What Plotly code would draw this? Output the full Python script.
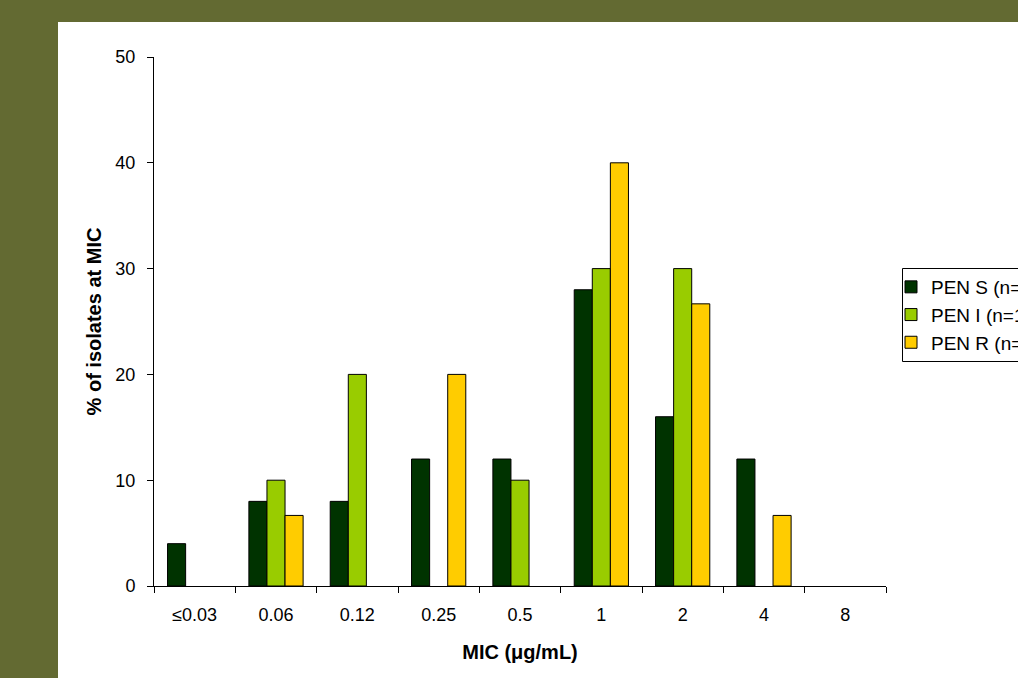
import plotly.graph_objects as go

categories = ["≤0.03", "0.06", "0.12", "0.25", "0.5", "1", "2", "4", "8"]
pen_s = [4, 8, 8, 12, 12, 28, 16, 12, 0]
pen_i = [0, 10, 20, 0, 10, 30, 30, 0, 0]
pen_r = [0, 6.67, 0, 20, 0, 40, 26.67, 6.67, 0]
series_names = ["PEN S (n=25)", "PEN I (n=10)", "PEN R (n=15)"]
colors = ["#003300", "#99cc00", "#ffcc00"]
y_ticks = [0, 10, 20, 30, 40, 50]

W, H = 1018, 678
L, R, T, B = 154, 886, 57, 586

fig = go.Figure()
for name, vals, c in zip(series_names, [pen_s, pen_i, pen_r], colors):
    # zero-height bars are not drawn in the reference
    shown = [v if v else None for v in vals]
    fig.add_trace(go.Bar(x=categories, y=shown, name=name, marker_color=c,
                         marker_line_color="#000000", marker_line_width=1))

def px_x(p):
    return (p - L) / (R - L)

def px_y(p):
    return (B - p) / (B - T)

# white slide panel
fig.add_shape(type="rect", xref="paper", yref="paper",
              x0=px_x(58), x1=px_x(1030), y0=px_y(22), y1=px_y(690),
              fillcolor="white", line_width=0, layer="below")
# legend frame
fig.add_shape(type="rect", xref="paper", yref="paper",
              x0=px_x(902.5), x1=px_x(1040), y0=px_y(361.5), y1=px_y(268.5),
              fillcolor="rgba(0,0,0,0)", line=dict(color="#000000", width=1),
              layer="above")

fig.update_layout(
    width=W, height=H,
    margin=dict(l=L, r=W - R, t=T, b=H - B, autoexpand=False),
    paper_bgcolor="#636a32",
    plot_bgcolor="rgba(0,0,0,0)",
    barmode="group",
    bargap=0.333,
    bargroupgap=0,
    font=dict(family="Liberation Sans, Arial, sans-serif", size=18, color="#000000"),
    showlegend=True,
    legend=dict(x=px_x(891), y=px_y(268), xanchor="left", yanchor="top",
                borderwidth=0, bgcolor="rgba(0,0,0,0)",
                font=dict(size=19), tracegroupgap=0, itemwidth=30),
    xaxis=dict(
        type="category", tickson="boundaries", ticks="outside", ticklen=6,
        tickcolor="#000000", showline=True, linecolor="#000000", linewidth=1,
        showgrid=False, zeroline=False, ticklabelstandoff=12,
        title=dict(text="<b>MIC (μg/mL)</b>", font=dict(size=20), standoff=21),
        tickfont=dict(size=18),
    ),
    yaxis=dict(
        range=[0, 50], tickvals=y_ticks, ticks="outside", ticklen=6,
        tickcolor="#000000", showline=True, linecolor="#000000", linewidth=1,
        showgrid=False, zeroline=False, ticklabelstandoff=8,
        title=dict(text="<b>% of isolates at MIC</b>", font=dict(size=20), standoff=8),
        tickfont=dict(size=18),
    ),
)

fig.write_html("out.html", config={"displayModeBar": False},
               post_script="document.body.style.margin='0';")
